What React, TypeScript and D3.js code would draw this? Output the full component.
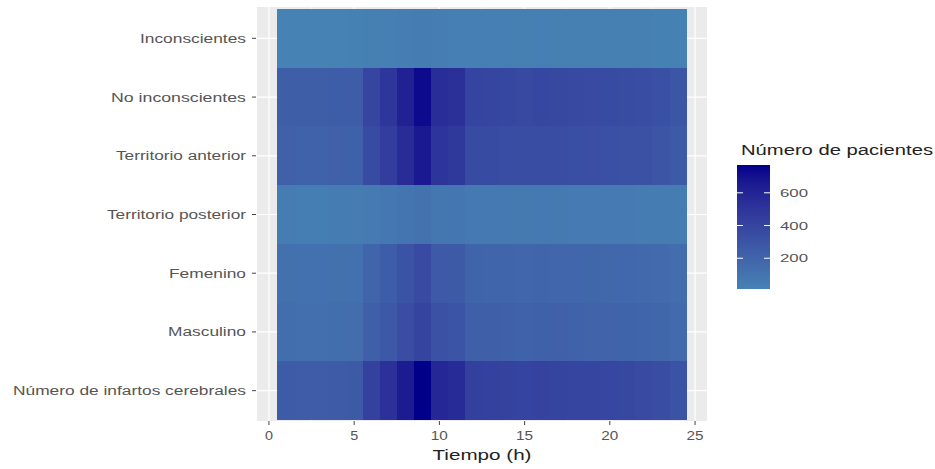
import React from "react";
import * as d3 from "d3";

const hours = [1,2,3,4,5,6,7,8,9,10,11,12,13,14,15,16,17,18,19,20,21,22,23,24];
const categories = [
  "Inconscientes",
  "No inconscientes",
  "Territorio anterior",
  "Territorio posterior",
  "Femenino",
  "Masculino",
  "Número de infartos cerebrales",
];
const inconscientes = [15,12,12,14,18,25,30,35,40,35,32,30,28,28,27,28,27,26,25,24,23,22,20,18];
const noInconscientes = [240,238,238,241,247,395,490,615,730,545,528,400,392,382,373,382,378,369,365,356,352,343,325,287];
const territorioAnterior = [215,212,212,215,220,360,445,555,660,495,480,360,355,345,338,345,343,335,332,325,320,313,297,263];
const territorioPosterior = [40,38,38,40,45,60,75,95,110,85,80,70,65,65,62,65,62,60,58,55,55,52,48,42];
const femenino = [120,118,117,120,125,195,245,305,365,270,262,200,195,190,186,190,188,184,182,177,175,170,162,142];
const masculino = [135,132,133,135,140,225,275,345,405,310,298,230,225,220,214,220,217,211,208,203,200,195,183,163];
const total = [255,250,250,255,265,420,520,650,770,580,560,430,420,410,400,410,405,395,390,380,375,365,345,305];
const seriesValues = [inconscientes, noInconscientes, territorioAnterior, territorioPosterior, femenino, masculino, total];
const xTicks = [0,5,10,15,20,25];
const legendTicks = [200,400,600];

const yLabelWidths = [106, 135, 130, 139, 77, 78, 233];
const xTickWidths = [8, 8, 17, 17, 17, 17];

export default function App() {
  const W = 935, H = 469;
  const panel = { x0: 257, x1: 707, y0: 7, y1: 421 };
  const x = d3.scaleLinear().domain([-0.7, 25.7]).range([panel.x0, panel.x1]);
  const y = d3.scaleBand().domain(categories).range([9, 420]).padding(0);
  const all = seriesValues.flat();
  const vmin = d3.min(all) as number;
  const vmax = d3.max(all) as number;
  const color = d3.scaleLinear<string>().domain([vmin, vmax]).range(["#4682B4", "#00008B"]).interpolate(d3.interpolateLab);
  const leg = { x: 737, w: 33, y0: 165, y1: 289 };
  const ly = d3.scaleLinear().domain([vmin, vmax]).range([leg.y1, leg.y0]);
  const minorX = [2.5, 7.5, 12.5, 17.5, 22.5];
  const stops = d3.range(0, 1.0001, 0.05);
  const grey = "#555";
  const font = "Liberation Sans, Arial, sans-serif";

  return (
    <svg width={W} height={H} style={{ position: "absolute", left: 0, top: 0 }} fontFamily={font}>
      <defs>
        <linearGradient id="lg" x1="0" y1="1" x2="0" y2="0">
          {stops.map((t) => (
            <stop key={t} offset={t} stopColor={color(vmin + t * (vmax - vmin))} />
          ))}
        </linearGradient>
      </defs>
      <rect x={0} y={0} width={W} height={H} fill="#fff" />
      <rect x={panel.x0} y={panel.y0} width={panel.x1 - panel.x0} height={panel.y1 - panel.y0} fill="#EBEBEB" />
      {minorX.map((v) => (
        <line key={"m" + v} x1={x(v)} x2={x(v)} y1={panel.y0} y2={panel.y1} stroke="#fff" strokeWidth={0.6} />
      ))}
      {xTicks.map((v) => (
        <line key={"g" + v} x1={x(v)} x2={x(v)} y1={panel.y0} y2={panel.y1} stroke="#fff" strokeWidth={1.2} />
      ))}
      {categories.map((c) => (
        <line key={"h" + c} x1={panel.x0} x2={panel.x1} y1={(y(c) as number) + y.bandwidth() / 2} y2={(y(c) as number) + y.bandwidth() / 2} stroke="#fff" strokeWidth={1.2} />
      ))}
      <g shapeRendering="crispEdges">
        {categories.map((c, i) =>
          hours.map((h, j) => (
            <rect
              key={c + h}
              x={x(h - 0.5)}
              y={y(c) as number}
              width={x(h + 0.5) - x(h - 0.5) + (j < hours.length - 1 ? 1 : 0)}
              height={y.bandwidth() + (i < categories.length - 1 ? 1 : 0)}
              fill={color(seriesValues[i][j])}
            />
          ))
        )}
      </g>
      {categories.map((c, i) => {
        const cy = (y(c) as number) + y.bandwidth() / 2;
        return (
          <g key={"yl" + c}>
            <line x1={252} x2={256} y1={cy} y2={cy} stroke="#444" strokeWidth={1} />
            <text x={246} y={cy + 4.5} textAnchor="end" fontSize={12.5} fill={grey} textLength={yLabelWidths[i]} lengthAdjust="spacingAndGlyphs">{c}</text>
          </g>
        );
      })}
      {xTicks.map((v, i) => (
        <g key={"xt" + v}>
          <line x1={x(v)} x2={x(v)} y1={panel.y1} y2={panel.y1 + 4} stroke="#444" strokeWidth={1} />
          <text x={x(v)} y={440} textAnchor="middle" fontSize={12.5} fill={grey} textLength={xTickWidths[i]} lengthAdjust="spacingAndGlyphs">{v}</text>
        </g>
      ))}
      <text x={(panel.x0 + panel.x1) / 2} y={460} textAnchor="middle" fontSize={15} fill="#222" textLength={99} lengthAdjust="spacingAndGlyphs">Tiempo (h)</text>
      <text x={741} y={155} fontSize={14} fill="#222" textLength={192} lengthAdjust="spacingAndGlyphs">Número de pacientes</text>
      <rect x={leg.x} y={leg.y0} width={leg.w} height={leg.y1 - leg.y0} fill="url(#lg)" />
      {legendTicks.map((v) => (
        <g key={"lt" + v}>
          <line x1={leg.x} x2={leg.x + 6} y1={ly(v)} y2={ly(v)} stroke="#fff" strokeWidth={1} />
          <line x1={leg.x + leg.w - 6} x2={leg.x + leg.w} y1={ly(v)} y2={ly(v)} stroke="#fff" strokeWidth={1} />
          <text x={780} y={ly(v) + 4} fontSize={11} fill={grey} textLength={28} lengthAdjust="spacingAndGlyphs">{v}</text>
        </g>
      ))}
    </svg>
  );
}
